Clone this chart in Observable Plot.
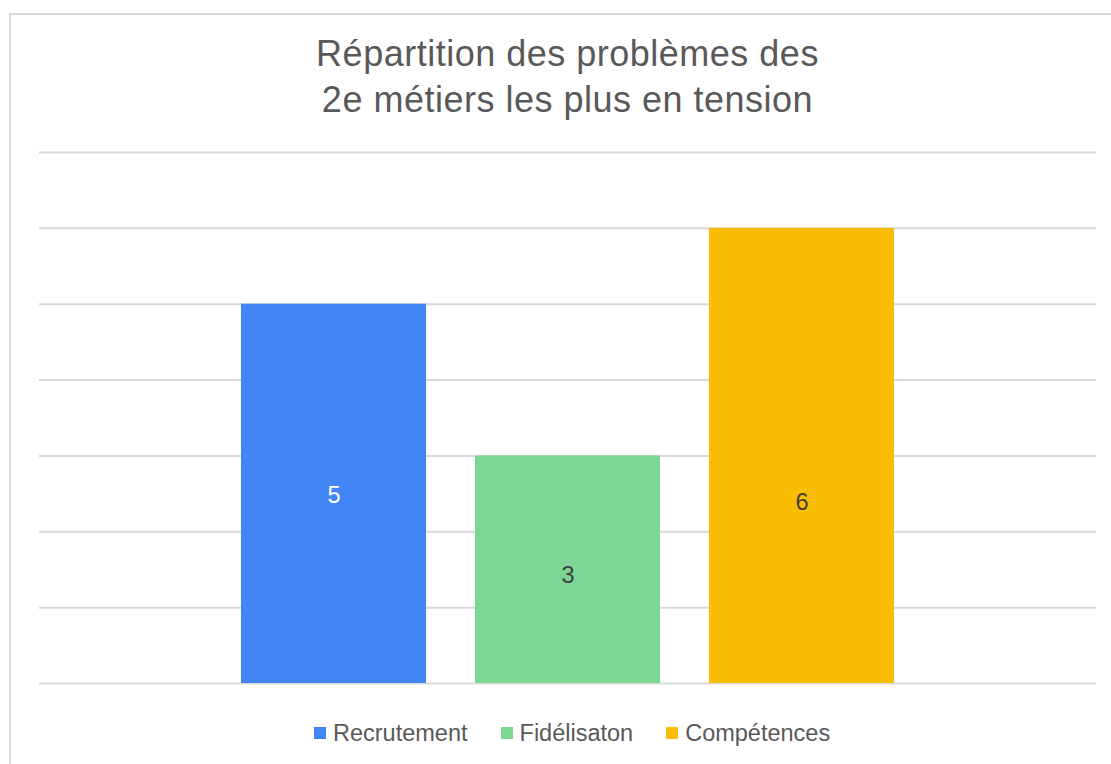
<!DOCTYPE html>
<html>
<head>
<meta charset="utf-8">
<script src="https://cdn.jsdelivr.net/npm/d3@7"></script>
<script src="https://cdn.jsdelivr.net/npm/@observablehq/plot@0.6"></script>
<style>
  html, body { margin: 0; padding: 0; background: #fff; width: 1111px; height: 764px; overflow: hidden; }
  #frame { position: absolute; left: 9px; top: 13px; width: 1200px; height: 900px;
           border-left: 2px solid #d9d9d9; border-top: 2px solid #d9d9d9; }
  #title { position: absolute; left: 39px; width: 1057px; top: 31px; text-align: center;
           font-family: "Liberation Sans", Arial, sans-serif; font-size: 36px; line-height: 46px;
           letter-spacing: 0.5px; color: #595959; }
  #chart { position: absolute; left: 0; top: 140px; }
  #legend { position: absolute; left: 314px; top: 720px; display: flex; align-items: center;
            font-family: "Liberation Sans", Arial, sans-serif; font-size: 23.5px; line-height: 26px; color: #595959; }
  .item { display: flex; align-items: center; margin-right: 33px; }
  .sw { width: 12px; height: 12px; margin-right: 7px; display: inline-block; }
</style>
</head>
<body>
<div id="frame"></div>
<div id="title">Répartition des problèmes des<br>2e métiers les plus en tension</div>
<div id="chart"></div>
<div id="legend"></div>
<script>
const categories = ["Recrutement", "Fidélisaton", "Compétences"];
const values = [5, 3, 6];
const colors = ["#4285F4", "#7BD793", "#FBBC04"];
const labelColors = ["#FFFFFF", "#404040", "#404040"];
const labelY = [2.48, 1.42, 2.39];
const yTicks = [0, 1, 2, 3, 4, 5, 6, 7];

const data = categories.map((c, i) => ({
  category: c, value: values[i], color: colors[i], labelColor: labelColors[i], labelY: labelY[i]
}));

const chart = Plot.plot({
  width: 1111,
  height: 560,
  marginLeft: 39,
  marginRight: 15,
  marginTop: 12,
  marginBottom: 17,
  style: { background: "transparent", fontFamily: "Liberation Sans, Arial, sans-serif" },
  x: { domain: categories, range: [216.5, 918.5], paddingInner: 0.2094, paddingOuter: 0.1047, axis: null },
  y: { domain: [0, 7], axis: null },
  color: { type: "identity" },
  marks: [
    Plot.ruleY(yTicks, { stroke: "#d9d9d9", strokeWidth: 2 }),
    Plot.barY(data, { x: "category", y: "value", fill: "color" }),
    Plot.text(data, { x: "category", y: "labelY", text: d => String(d.value), fill: "labelColor",
                      fontSize: 23.5, fontFamily: "Liberation Sans, Arial, sans-serif" })
  ]
});
document.getElementById("chart").appendChild(chart);

const legend = document.getElementById("legend");
categories.forEach((c, i) => {
  const item = document.createElement("div");
  item.className = "item";
  const sw = document.createElement("span");
  sw.className = "sw";
  sw.style.background = colors[i];
  const label = document.createElement("span");
  label.textContent = c;
  item.appendChild(sw);
  item.appendChild(label);
  legend.appendChild(item);
});
</script>
</body>
</html>
